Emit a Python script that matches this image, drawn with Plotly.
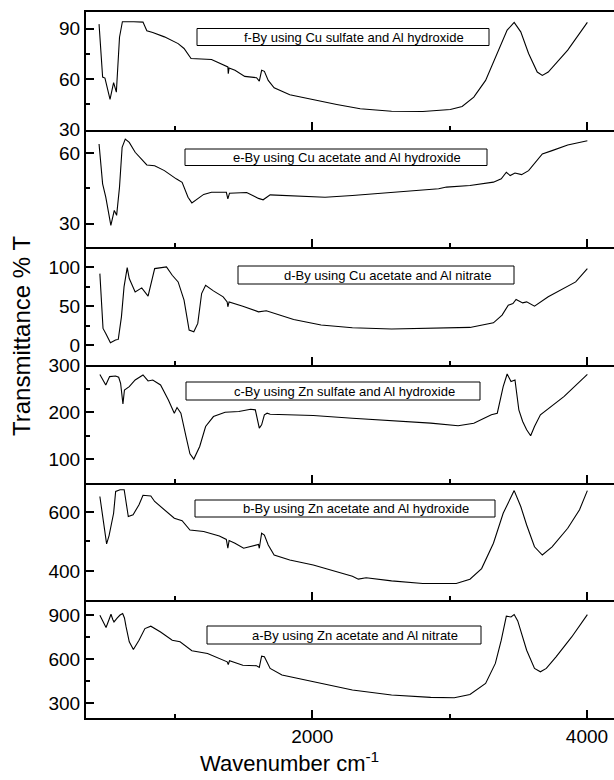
import plotly.graph_objects as go
from plotly.subplots import make_subplots

# ---------------- data ----------------
panel_labels = [
    "f-By using Cu sulfate and Al hydroxide",
    "e-By using Cu acetate and Al hydroxide",
    "d-By using Cu acetate and Al nitrate",
    "c-By using Zn sulfate and Al hydroxide",
    "b-By using Zn acetate and Al hydroxide",
    "a-By using Zn acetate and Al nitrate",
]

f_wn = [447, 473, 490, 527, 553, 573, 596, 617, 700, 767, 795, 838, 923, 1023, 1066, 1117,
        1266, 1351, 1385, 1388, 1394, 1437, 1508, 1594, 1614, 1631, 1651, 1679, 1722, 1836,
        2007, 2178, 2349, 2577, 2805, 3005, 3091, 3176, 3262, 3347, 3419, 3470, 3518, 3575,
        3638, 3675, 3718, 3860, 4003]
f_T = [92.8, 61.3, 60.7, 48, 58, 52.3, 85, 94.2, 94.2, 94, 88.8, 87.8, 85.2, 81.2, 78.3, 72.3,
       71.7, 68.9, 67.3, 63.3, 66.7, 65.3, 61.7, 60.9, 58.9, 65.3, 64.7, 59.3, 54.9, 50.8,
       47.8, 45, 42.4, 41, 40.8, 42, 43.8, 49.4, 59.3, 75.3, 89.2, 93.8, 88.2, 75.3,
       64.3, 62.3, 64.3, 77.3, 93.8]

e_wn = [447, 473, 496, 533, 558, 575, 596, 615, 638, 667, 710, 795, 852, 923, 1009, 1052,
        1095, 1123, 1209, 1266, 1374, 1385, 1397, 1522, 1608, 1642, 1693, 1864, 2093, 2292,
        2577, 2920, 2977, 3148, 3319, 3376, 3413, 3441, 3476, 3524, 3575, 3675, 3746, 3860, 4003]
e_T = [63.9, 47, 41.3, 29.3, 35.7, 33.6, 45.6, 62.5, 66, 64.6, 60.4, 55, 54.7, 52.6, 49.1, 47.6,
       41.3, 38.9, 42.5, 43.4, 43.4, 40.6, 43, 43.3, 40.8, 40.2, 42.3, 42, 41.3, 42,
       43.4, 44.9, 45.6, 46.3, 47.7, 49.1, 51.9, 50.5, 51.6, 50.9, 52.6, 59.7, 61.1, 63.5, 65.3]

d_wn = [453, 476, 496, 530, 567, 587, 610, 629, 652, 667, 710, 758, 804, 852, 938, 980, 1023,
        1066, 1103, 1137, 1166, 1194, 1223, 1280, 1351, 1380, 1385, 1394, 1494, 1608, 1665,
        1722, 1864, 2064, 2292, 2577, 2862, 3148, 3319, 3382, 3427, 3461, 3484, 3532, 3561,
        3618, 3718, 3832, 3918, 4003]
d_T = [91.5, 21.6, 15.3, 3.4, 6.8, 7.6, 36.4, 74.6, 99.2, 85.2, 68.2, 73.3, 62.7, 97.9, 100, 89.4,
       80.9, 57.6, 19.5, 17.4, 28, 66.1, 76.7, 69.5, 61.9, 55.5, 49.2, 55.5, 50, 42.8, 44.1,
       40.7, 33.1, 25.9, 22.5, 20.8, 21.6, 22.9, 28.8, 38.6, 51.3, 53.4, 58.5, 54.2, 55.5,
       50, 61.9, 72.5, 80.9, 97.9]

c_wn = [453, 496, 524, 567, 590, 604, 621, 632, 667, 710, 767, 804, 838, 895, 952, 995, 1015,
        1043, 1080, 1109, 1137, 1180, 1223, 1280, 1365, 1465, 1551, 1585, 1614, 1631, 1651,
        1671, 1693, 2007, 2292, 2577, 2862, 3062, 3176, 3304, 3347, 3390, 3419, 3447, 3476,
        3504, 3532, 3561, 3590, 3618, 3661, 3832, 4003]
c_T = [280, 257.6, 275.3, 276.7, 273.9, 261.2, 217.4, 247, 254, 268.2, 278.8, 266.1, 268.2,
       257.6, 225.8, 197.6, 209.6, 197.6, 148.2, 111.4, 100.1, 127, 169.3, 190.5, 199.7,
       201.1, 206.1, 204.7, 165.8, 172.9, 194.1, 197.6, 195.5, 192.6, 187, 181.3, 176.4,
       170.8, 176.4, 194.1, 197.6, 254, 280.9, 264.7, 268.2, 204.7, 180, 162.3, 149.6,
       169.3, 194.1, 232.9, 280.2]

b_wn = [453, 470, 490, 502, 520, 540, 553, 568, 600, 630, 642, 660, 695, 738, 767, 800, 824,
        852, 923, 995, 1052, 1109, 1209, 1323, 1374, 1385, 1394, 1437, 1500, 1551, 1608, 1614,
        1631, 1651, 1679, 1722, 1836, 2007, 2178, 2292, 2335, 2392, 2577, 2805, 3048, 3148,
        3233, 3319, 3390, 3433, 3470, 3518, 3561, 3618, 3675, 3746, 3860, 3946, 4003]
b_T = [653, 600, 530, 492, 520, 570, 596, 670, 676, 676, 640, 585, 591, 625, 657, 657, 655,
       636, 608, 579, 571, 539, 534, 519, 507, 477, 503, 494, 477, 482, 490, 477,
       528, 522, 488, 454, 437, 420, 397, 382, 372, 377, 366, 357, 357, 372,
       408, 494, 596, 636, 673, 619, 556, 482, 454, 482, 545, 608, 673]

a_wn = [453, 475, 498, 520, 534, 547, 556, 580, 600, 619, 632, 644, 667, 697, 738, 781, 824,
        895, 980, 1037, 1123, 1237, 1337, 1380, 1388, 1397, 1494, 1594, 1614, 1631, 1651,
        1693, 1779, 2007, 2292, 2577, 2862, 3034, 3148, 3262, 3333, 3376, 3413, 3447, 3470,
        3496, 3561, 3618, 3661, 3704, 3775, 3889, 4003]
a_T = [898, 860, 815, 870, 905, 870, 853, 880, 900, 910, 880, 819, 718, 666, 729, 808, 824,
       785, 729, 718, 657, 638, 598, 582, 564, 589, 559, 555, 544, 620, 616,
       537, 492, 446, 390, 356, 340, 338, 360, 435, 571, 729, 892, 887, 903,
       860, 661, 537, 514, 537, 616, 751, 903]

y_ranges = [[30, 100], [20, 70], [-25, 125], [50, 300], [300, 700], [200, 1000]]
y_dticks = [30, 30, 50, 100, 200, 300]
x_range = [352, 4197]

# ---------------- figure ----------------
W, H = 614, 780
ML, MR, MT, MB = 86, 0, 12, 62
FONT = "Arial, Liberation Sans, sans-serif"

series = [(f_wn, f_T), (e_wn, e_T), (d_wn, d_T), (c_wn, c_T), (b_wn, b_T), (a_wn, a_T)]

fig = make_subplots(rows=6, cols=1, shared_xaxes=True, vertical_spacing=0)

for i, (wn, t) in enumerate(series):
    r = i + 1
    fig.add_trace(go.Scatter(x=wn, y=t, mode="lines",
                             line=dict(color="black", width=1.1),
                             showlegend=False, hoverinfo="skip"), row=r, col=1)
    fig.update_yaxes(range=y_ranges[i], dtick=y_dticks[i], tick0=0,
                     ticks="inside", ticklen=8, tickwidth=1.5, tickcolor="black",
                     minor=dict(dtick=y_dticks[i] / 2, tick0=0, ticks="inside",
                                ticklen=4, tickwidth=1.5, tickcolor="black", showgrid=False),
                     showline=True, linewidth=2, linecolor="black",
                     showgrid=False, zeroline=False,
                     tickfont=dict(family=FONT, size=19, color="black"),
                     row=r, col=1)
    fig.update_xaxes(range=x_range, dtick=2000, tick0=0,
                     ticks="inside", ticklen=8, tickwidth=1.5, tickcolor="black",
                     minor=dict(dtick=1000, tick0=0, ticks="inside", ticklen=4,
                                tickwidth=1.5, tickcolor="black", showgrid=False),
                     showline=True, linewidth=2, linecolor="black",
                     showgrid=False, zeroline=False,
                     showticklabels=(r == 6),
                     tickfont=dict(family=FONT, size=19, color="black"),
                     row=r, col=1)

fig.update_xaxes(mirror=True, row=1, col=1)


def px_x(px):
    return (px - ML) / (W - ML - MR)


def px_y(py):
    return (H - MB - py) / (H - MT - MB)


# label boxes (pixel positions of box edges)
boxes = [
    (197, 489, 28.5, 45.5),
    (185, 487, 149, 165.5),
    (238, 514, 266, 284),
    (186, 480, 382, 400),
    (195, 495, 500, 517),
    (207, 481, 626, 644),
]
shapes = []
annotations = []
for (x0, x1, y0, y1), lab in zip(boxes, panel_labels):
    shapes.append(dict(type="rect", xref="paper", yref="paper",
                       x0=px_x(x0), x1=px_x(x1), y0=px_y(y1), y1=px_y(y0),
                       line=dict(color="black", width=1), fillcolor="white", layer="above"))
    annotations.append(dict(xref="paper", yref="paper",
                            x=px_x((x0 + x1) / 2 + 11), y=px_y((y0 + y1) / 2),
                            xanchor="center", yanchor="middle", showarrow=False,
                            text=lab, font=dict(family=FONT, size=13, color="black")))

annotations.append(dict(xref="paper", yref="paper", x=px_x(21), y=px_y(336),
                        xanchor="center", yanchor="middle", showarrow=False, textangle=-90,
                        text="Transmittance % T", font=dict(family=FONT, size=24, color="black")))
annotations.append(dict(xref="paper", yref="paper", x=px_x(198), y=px_y(762),
                        xanchor="left", yanchor="middle", showarrow=False,
                        text="Wavenumber cm<sup>-1</sup>",
                        font=dict(family=FONT, size=22, color="black")))

fig.update_layout(width=W, height=H, margin=dict(l=ML, r=MR, t=MT, b=MB),
                  paper_bgcolor="white", plot_bgcolor="white",
                  shapes=shapes, annotations=annotations, showlegend=False)

fig.write_html("out.html")
